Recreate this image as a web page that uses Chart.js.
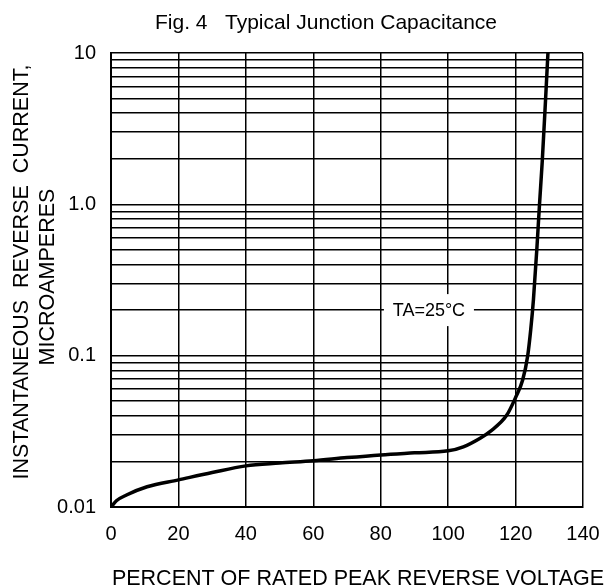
<!DOCTYPE html>
<html>
<head>
<meta charset="utf-8">
<script src="https://cdn.jsdelivr.net/npm/chart.js@4.4.0/dist/chart.umd.min.js"></script>
<style>
  html, body { margin: 0; padding: 0; background: #fff; }
  canvas { display: block; }
</style>
</head>
<body>
<canvas id="chart" width="605" height="587"></canvas>
<script>
const FONT = '"Liberation Sans", Arial, Helvetica, sans-serif';

// percent of rated peak reverse voltage
const voltagePct = [0, 1.6, 4.6, 10.7, 20, 30, 40, 50, 60, 70, 80, 90, 100, 104.5, 109.5,
  112.4, 117.4, 120.1, 122.1, 123.6, 124.5, 125.3, 126.3, 127.1, 127.9, 128.9, 129.6];
// instantaneous reverse current, microamperes
const currentUA = [0.010, 0.011, 0.012, 0.0136, 0.0151, 0.0169, 0.0187, 0.0195, 0.0202, 0.0212, 0.0221, 0.0228, 0.0235, 0.025, 0.0285,
  0.0315, 0.0405, 0.0535, 0.069, 0.1, 0.149, 0.235, 0.503, 1.0, 1.9, 4.95, 10];

const xTicks = [0, 20, 40, 60, 80, 100, 120, 140];
const yGridValues = [0.01, 0.02, 0.03, 0.04, 0.05, 0.06, 0.07, 0.08, 0.09,
  0.1, 0.2, 0.3, 0.4, 0.5, 0.6, 0.7, 0.8, 0.9,
  1, 2, 3, 4, 5, 6, 7, 8, 9, 10];
const yTickLabels = { 0.01: '0.01', 0.1: '0.1', 1: '1.0', 10: '10' };

const chartTitle = 'Fig. 4   Typical Junction Capacitance';
const yTitleLines = ['INSTANTANEOUS  REVERSE  CURRENT,', 'MICROAMPERES'];
const xTitle = 'PERCENT OF RATED PEAK REVERSE VOLTAGE';
const noteText = 'TA=25°C';
const notePos = { x: 94.3, y: 0.2 };

const textPlugin = {
  id: 'sheetText',
  afterDatasetsDraw(chart) {
    const ctx = chart.ctx;
    const { x, y } = chart.scales;
    ctx.save();

    // note with white box over the grid
    const nx = x.getPixelForValue(notePos.x);
    const ny = y.getPixelForValue(notePos.y);
    ctx.fillStyle = '#fff';
    ctx.fillRect(nx - 45, ny - 16, 90, 32);
    ctx.fillStyle = '#000';
    ctx.font = '18px ' + FONT;
    ctx.textAlign = 'center';
    ctx.textBaseline = 'middle';
    ctx.fillText(noteText, nx, ny + 1);

    // figure title
    ctx.font = '21px ' + FONT;
    ctx.textBaseline = 'alphabetic';
    ctx.fillText(chartTitle, 326, 28.5);

    // x axis title
    ctx.font = '21.5px ' + FONT;
    ctx.fillText(xTitle, 358, 585);

    // y axis title, two rotated lines
    ctx.save();
    ctx.translate(28, 272);
    ctx.rotate(-Math.PI / 2);
    ctx.fillText(yTitleLines[0], 0, 0);
    ctx.restore();
    ctx.save();
    ctx.translate(54, 277);
    ctx.rotate(-Math.PI / 2);
    ctx.fillText(yTitleLines[1], 0, 0);
    ctx.restore();

    ctx.restore();
  }
};

new Chart(document.getElementById('chart'), {
  type: 'line',
  data: {
    labels: voltagePct,
    datasets: [{
      data: voltagePct.map((v, i) => ({ x: v, y: currentUA[i] })),
      borderColor: '#000',
      borderWidth: 3.5,
      pointRadius: 0,
      fill: false,
      cubicInterpolationMode: 'monotone',
    }],
  },
  options: {
    responsive: false,
    animation: false,
    layout: { padding: { left: 0, top: 53, right: 22, bottom: 0 } },
    plugins: {
      legend: { display: false },
      tooltip: { enabled: false },
      title: { display: false },
    },
    scales: {
      x: {
        type: 'linear',
        min: 0,
        max: 140,
        afterBuildTicks: (axis) => { axis.ticks = xTicks.map(v => ({ value: v })); },
        afterFit: (scale) => {
          scale.height = 80;
          scale.paddingLeft = 0;
          scale.paddingRight = 0;
        },
        grid: { color: '#000', lineWidth: 1.5, drawTicks: false },
        border: { color: '#000', width: 2 },
        ticks: {
          color: '#000',
          padding: 15,
          maxRotation: 0,
          autoSkip: false,
          font: { family: FONT, size: 20 },
          callback: (v) => String(v),
        },
      },
      y: {
        type: 'logarithmic',
        min: 0.01,
        max: 10,
        afterBuildTicks: (axis) => { axis.ticks = yGridValues.map(v => ({ value: v })); },
        afterFit: (scale) => {
          scale.width = 111;
          scale.paddingTop = 0;
          scale.paddingBottom = 0;
        },
        grid: { color: '#000', lineWidth: 1.5, drawTicks: false },
        border: { color: '#000', width: 2 },
        ticks: {
          color: '#000',
          padding: 15,
          autoSkip: false,
          font: { family: FONT, size: 20 },
          callback: (v) => yTickLabels[v] || '',
        },
      },
    },
  },
  plugins: [textPlugin],
});
</script>
</body>
</html>
